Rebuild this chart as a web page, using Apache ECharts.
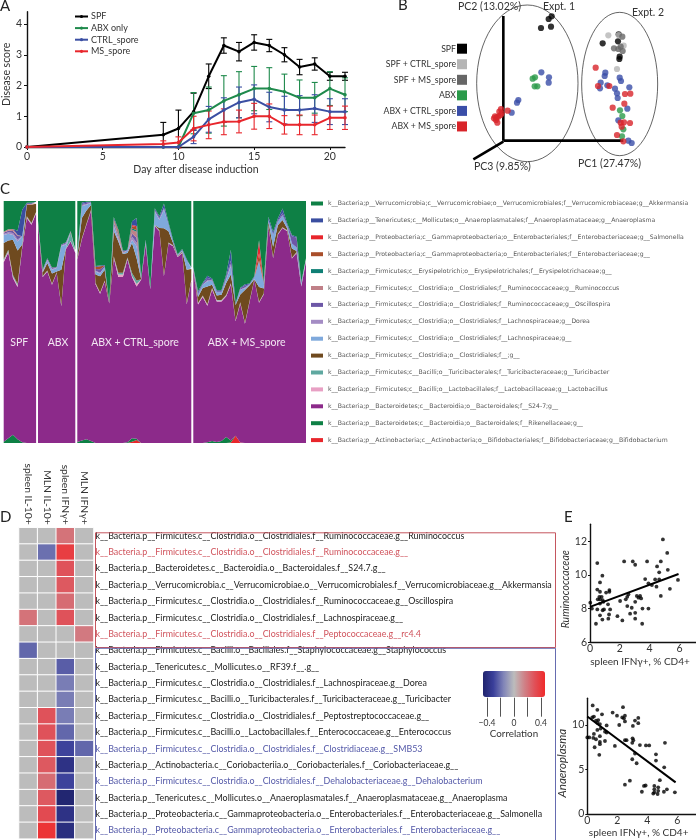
<!DOCTYPE html>
<html><head><meta charset="utf-8">
<style>html,body{margin:0;padding:0;background:#fff}#c{width:696px;height:840px}</style>
<script src="https://cdn.jsdelivr.net/npm/echarts@6/dist/echarts.min.js"></script>
</head><body><div id="c"></div><script>
const FONT='Lato';
// ---------- Panel A ----------
const days=[0,9,10,11,12,13,14,15,16,17,18,19,20,21];
const scoreSPF=[0,.4,.6,1.15,2.3,3.3,3.1,3.4,3.3,3.0,2.6,2.7,2.3,2.3];
const errSPF=[0,.4,.6,.6,.4,.25,.3,.25,.2,.23,.25,.2,.13,.13];
const scoreABX=[0,0,0,1.1,1.2,1.5,1.7,1.9,1.9,1.8,1.6,1.6,1.9,1.7];
const errABX=[0,0,0,.67,.75,.82,.75,.72,.68,.57,.58,.5,.55,.55];
const scoreCTRL=[0,0,0,.33,.9,1.2,1.45,1.55,1.3,1.2,1.2,1.25,1.15,1.15];
const errCTRL=[0,0,0,.22,.42,.4,.5,.47,.48,.45,.47,.45,.42,.42];
const scoreMS=[0,.1,.15,.6,.72,.82,.83,1.0,1.0,.72,.72,.72,.95,.95];
const errMS=[0,.1,.18,.4,.45,.42,.37,.42,.4,.3,.32,.32,.38,.38];
const groupsA=[['SPF',scoreSPF,errSPF,'#000000'],['ABX only',scoreABX,errABX,'#1f8a4c'],['CTRL_spore',scoreCTRL,errCTRL,'#3b4fa3'],['MS_spore',scoreMS,errMS,'#e8262c']];
// ---------- Panel B ----------
const pcoaSPF=[[113,338],[143,342],[136,365],[145,373],[298,292],[344,298],[349,252],[348,245],[346,319]];
const pcoaSPFctrl=[[315,316],[346,317],[361,285],[341,215]];
const pcoaSPFms=[[357,312],[332,277],[358,269],[345,275],[352,282]];
const pcoaABX=[[88,186],[95,190],[94,163],[102,163],[350,91],[357,74],[360,34],[356,13]];
const pcoaABXctrl=[[114,205],[137,190],[136,174],[41,114],[45,122],[25,84],[306,204],[304,194],[292,174],[312,166],[349,189],[353,179],[335,156],[341,142],[343,128],[378,160],[372,96],[345,61],[375,0],[385,-7],[290,157]];
const pcoaABXms=[[-12,87],[-7,95],[13,90],[-25,73],[-20,70],[-28,67],[-15,72],[-22,62],[-18,54],[-8,77],[-5,82],[277,219],[284,164],[318,164],[328,99],[363,111],[365,140],[381,141],[362,55],[355,42],[380,53],[341,17],[360,-2],[352,54]];
const pcoaGroups=[['SPF',pcoaSPF,'#000000'],['SPF + CTRL_spore',pcoaSPFctrl,'#b5b5b5'],['SPF + MS_spore',pcoaSPFms,'#666666'],['ABX',pcoaABX,'#2a9a4a'],['ABX + CTRL_spore',pcoaABXctrl,'#3a4ea8'],['ABX + MS_spore',pcoaABXms,'#d8242a']];
const ellipses=[[72,172,152,235],[349,170,114,215]];
const pcAxes=[[[0,0],[360,0]],[[0,0],[0,374]],[[0,-3],[-90,-56]]];
// ---------- Panel C ----------
const taxa=[
 ['actino','k__Bacteria;p__Actinobacteria;c__Actinobacteria;o__Bifidobacteriales;f__Bifidobacteriaceae;g__Bifidobacterium','#e8262c'],
 ['riken','k__Bacteria;p__Bacteroidetes;c__Bacteroidia;o__Bacteroidales;f__Rikenellaceae;g__','#0e8045'],
 ['s24','k__Bacteria;p__Bacteroidetes;c__Bacteroidia;o__Bacteroidales;f__S24-7;g__','#8c2a8a'],
 ['lacto','k__Bacteria;p__Firmicutes;c__Bacilli;o__Lactobacillales;f__Lactobacillaceae;g__Lactobacillus','#e8a0c4'],
 ['turi','k__Bacteria;p__Firmicutes;c__Bacilli;o__Turicibacterales;f__Turicibacteraceae;g__Turicibacter','#5fa8a0'],
 ['brown','k__Bacteria;p__Firmicutes;c__Clostridia;o__Clostridiales;f__;g__','#6f4a1f'],
 ['lachno','k__Bacteria;p__Firmicutes;c__Clostridia;o__Clostridiales;f__Lachnospiraceae;g__','#7fa9dc'],
 ['dorea','k__Bacteria;p__Firmicutes;c__Clostridia;o__Clostridiales;f__Lachnospiraceae;g__Dorea','#a48cc4'],
 ['osc','k__Bacteria;p__Firmicutes;c__Clostridia;o__Clostridiales;f__Ruminococcaceae;g__Oscillospira','#6d57a6'],
 ['rumino','k__Bacteria;p__Firmicutes;c__Clostridia;o__Clostridiales;f__Ruminococcaceae;g__Ruminococcus','#c08088'],
 ['erys','k__Bacteria;p__Firmicutes;c__Erysipelotrichi;o__Erysipelotrichales;f__Erysipelotrichaceae;g__','#0f7f75'],
 ['entero','k__Bacteria;p__Proteobacteria;c__Gammaproteobacteria;o__Enterobacteriales;f__Enterobacteriaceae;g__','#a94e2a'],
 ['salm','k__Bacteria;p__Proteobacteria;c__Gammaproteobacteria;o__Enterobacteriales;f__Enterobacteriaceae;g__Salmonella','#e8262c'],
 ['anaero','k__Bacteria;p__Tenericutes;c__Mollicutes;o__Anaeroplasmatales;f__Anaeroplasmataceae;g__Anaeroplasma','#3a4ea0'],
 ['akk','k__Bacteria;p__Verrucomicrobia;c__Verrucomicrobiae;o__Verrucomicrobiales;f__Verrucomicrobiaceae;g__Akkermansia','#0e8045']
];
const taxaSPF={
 riken:[.5,2,3.4,1.5,.3,0,0,0],
 s24:[74.2,76.7,64.8,63,80.3,93,90.2,94.8],
 lacto:[.6,.6,.6,.6,.4,.4,.4,.4],
 turi:[.6,.6,.6,.6,.3,.3,.3,.3],
 brown:[6.7,3.8,14.6,13.8,.7,4.8,7.6,3.4],
 lachno:[3.4,2.8,2,3.8,3.4,0,0,0],
 dorea:[.4,.6,.8,.8,0,0,0,0],
 osc:[.5,.6,.8,1.4,0,0,0,0],
 rumino:[.4,.6,.8,.4,0,.4,.4,.4],
 anaero:[0,0,0,1.8,11,.4,.4,.4],
 akk:[13,13,12,13,5,1,1,1]};
const taxaABX={
 s24:[90.9,68.6,70.9,65.4,70.2,56.5,80.2,83.3,78.5],
 lacto:[.2,.2,.2,.2,.2,.2,.2,.2,.2],
 turi:[.2,.2,.2,.2,.2,.3,.2,3.4,.2],
 brown:[0,1.5,3.1,4.2,.3,14.6,0,.3,.3],
 lachno:[0,.4,1.1,1.6,1.4,9.7,1.4,0,.4],
 dorea:[0,.3,.3,.3,.2,.3,.4,.2,.1],
 osc:[.5,.5,.5,.6,.2,.4,.6,.2,.2],
 akk:[9,29,25,28,28,19,18,13,21]};
const taxaCTRL={
 actino:[0,0,0,0,0,0,0,0,0,0,0,0,.5,1.2,0,0,0,0,0,0,0,0,0,0,0,0],
 riken:[.4,1,1.6,.8,0,0,0,0,0,0,0,.3,1.5,.6,0,0,0,0,0,0,0,0,0,0,0,0],
 s24:[75.5,83.2,88.6,95.1,65.6,61.7,66.7,57.6,76.6,68.6,68.6,75.6,66.6,62.9,67.5,82,63.5,89.7,87.5,69,82.4,81.3,76.9,78.5,57.3,66.9],
 lacto:[.2,.2,.2,.2,.3,.3,.3,.1,.3,1,1,.3,.4,1,.1,.2,.1,.2,.2,.2,.2,.2,.2,.2,.2,.2],
 turi:[.2,.2,.2,.2,.2,.2,.2,.1,.3,.8,.8,.5,1.2,1.5,.1,.2,.1,.2,.2,.2,.2,.2,.1,.2,.2,.2],
 brown:[.8,8.4,5.5,2,3.5,6.7,4.4,.3,10.4,12.9,7.7,1.8,12.4,9.2,.1,.2,0,0,.9,19.3,4.7,.9,.2,.3,13.9,4.6],
 lachno:[.7,4.8,2.4,.9,1.3,1.1,1.1,0,1.9,.7,.4,1,1.4,4.9,.2,.7,.3,5.5,3.5,7.7,2.9,.7,.3,.4,3.9,.3],
 dorea:[0,.5,.3,.2,.3,.3,0,0,.8,.5,0,0,1.2,1.5,0,0,0,.3,.3,.3,0,0,0,0,0,0],
 osc:[.2,.5,.5,.2,.7,1.5,.5,.2,1,.7,0,0,1.4,2,.1,.2,0,.5,.5,.5,0,0,.1,.2,0,0],
 rumino:[0,0,0,0,0,0,0,0,.8,1,.5,.2,1.5,2.5,0,0,0,0,0,0,0,0,0,0,0,0],
 erys:[0,0,0,0,0,0,0,0,0,.6,0,0,.5,.7,0,0,0,0,0,0,0,0,0,0,0,0],
 entero:[0,0,0,0,.8,1.2,0,0,.4,.8,0,0,1,1.2,0,0,0,0,0,0,0,0,0,0,0,0],
 salm:[0,0,0,0,0,0,0,0,0,.3,0,0,.5,.5,0,0,0,0,0,0,0,0,0,0,0,0],
 anaero:[.2,.6,.4,.1,.4,.3,.4,.1,.9,.3,.5,.2,1.5,3.3,.2,.5,.1,.6,.6,1.8,.8,.7,.2,.4,.5,.3],
 akk:[23,2,2,2,28,28,28,43,8,13,22,22,10,9,33,17,37,4,8,2,10,17,23,21,25,29]};
const taxaMS={
 actino:[0,0,0,0,0,0,0,0,.2,3,.2,0,0,0,0,0,0,0,0,0,0,0,0,0,0],
 riken:[0,0,0,.3,.8,.4,.8,2.5,.8,0,0,0,0,0,0,0,0,0,0,0,0,0,0,0,0],
 s24:[71.6,57.2,60.3,56.4,62.6,58.1,57.7,58.1,64.4,47.3,57.4,49.3,58.5,67.5,58,61.4,89.5,76.4,86.1,88.8,87.5,76.2,78.5,64.7,75],
 lacto:[.1,.4,.4,.4,.4,.4,.4,.4,.4,.2,.4,.2,.2,.1,.2,.2,.2,.2,.2,.2,.2,.2,.2,.2,.2],
 turi:[.1,.2,.2,.2,.2,.2,.2,.2,.2,.2,.2,.2,.2,.1,.2,.2,.2,.2,.2,.2,.2,.2,.2,.2,.2],
 brown:[.1,2.5,3.1,7.4,1.4,1.8,2.2,4.9,3.6,6.3,3.2,13.5,6.3,0,6.1,2,1.5,4.3,3.5,2.9,.7,3.8,.4,.1,0],
 lachno:[.4,1,1.4,2.1,1.8,1.4,1,1.4,3.4,.2,2,.6,.4,.8,10.4,2.1,.7,4.8,1.4,2,1.4,2,1.5,.7,.5],
 dorea:[0,0,0,.5,0,0,0,.3,1,0,0,.5,0,0,0,0,0,0,0,0,0,0,0,0,0],
 osc:[0,.7,.3,1,.4,.4,.4,.8,1.4,0,.4,.8,0,0,.5,0,0,.5,.5,1,0,3,4,0,0],
 entero:[0,0,0,0,0,0,0,0,0,0,0,0,0,0,3,0,0,0,0,0,0,0,0,0,0],
 salm:[0,0,0,0,0,0,0,0,0,0,0,0,0,0,5,0,0,0,0,0,0,0,0,0,0],
 anaero:[.3,.7,.4,.8,.4,.4,.4,1,4.5,.5,.4,.5,.3,.5,.4,.7,1.4,.9,.9,1.8,.7,.5,.4,.7,.4],
 akk:[28,38,35,32,33,38,38,31,21,43,37,35,35,32,17,34,7,13,8,4,10,15,16,34,25]};
const taxaGroups=[['SPF',taxaSPF,3.7,32.4,19.3],['ABX',taxaABX,38,37.3,58],['ABX + CTRL_spore',taxaCTRL,77.3,114,135],['ABX + MS_spore',taxaMS,193.3,112.7,246.7]];
// ---------- Panel D ----------
const cytokines=['spleen IL-10+','MLN IL-10+','spleen IFNγ+','MLN IFNγ+'];
const otuLabels=[
'k__Bacteria.p__Firmicutes.c__Clostridia.o__Clostridiales.f__Ruminococcaceae.g__Ruminococcus',
'k__Bacteria.p__Firmicutes.c__Clostridia.o__Clostridiales.f__Ruminococcaceae.g__',
'k__Bacteria.p__Bacteroidetes.c__Bacteroidia.o__Bacteroidales.f__S24.7.g__',
'k__Bacteria.p__Verrucomicrobia.c__Verrucomicrobiae.o__Verrucomicrobiales.f__Verrucomicrobiaceae.g__Akkermansia',
'k__Bacteria.p__Firmicutes.c__Clostridia.o__Clostridiales.f__Ruminococcaceae.g__Oscillospira',
'k__Bacteria.p__Firmicutes.c__Clostridia.o__Clostridiales.f__Lachnospiraceae.g__',
'k__Bacteria.p__Firmicutes.c__Clostridia.o__Clostridiales.f__Peptococcaceae.g__rc4.4',
'k__Bacteria.p__Firmicutes.c__Bacilli.o__Bacillales.f__Staphylococcaceae.g__Staphylococcus',
'k__Bacteria.p__Tenericutes.c__Mollicutes.o__RF39.f__.g__',
'k__Bacteria.p__Firmicutes.c__Clostridia.o__Clostridiales.f__Lachnospiraceae.g__Dorea',
'k__Bacteria.p__Firmicutes.c__Bacilli.o__Turicibacterales.f__Turicibacteraceae.g__Turicibacter',
'k__Bacteria.p__Firmicutes.c__Clostridia.o__Clostridiales.f__Peptostreptococcaceae.g__',
'k__Bacteria.p__Firmicutes.c__Bacilli.o__Lactobacillales.f__Enterococcaceae.g__Enterococcus',
'k__Bacteria.p__Firmicutes.c__Clostridia.o__Clostridiales.f__Clostridiaceae.g__SMB53',
'k__Bacteria.p__Actinobacteria.c__Coriobacteriia.o__Coriobacteriales.f__Coriobacteriaceae.g__',
'k__Bacteria.p__Firmicutes.c__Clostridia.o__Clostridiales.f__Dehalobacteriaceae.g__Dehalobacterium',
'k__Bacteria.p__Tenericutes.c__Mollicutes.o__Anaeroplasmatales.f__Anaeroplasmataceae.g__Anaeroplasma',
'k__Bacteria.p__Proteobacteria.c__Gammaproteobacteria.o__Enterobacteriales.f__Enterobacteriaceae.g__Salmonella',
'k__Bacteria.p__Proteobacteria.c__Gammaproteobacteria.o__Enterobacteriales.f__Enterobacteriaceae.g__'];
const otuTone=['k','r','k','k','k','k','r','k','k','k','k','k','k','b','k','b','k','k','b'];
const corrSpleenIL10=[0,0,0,0,0,.2,0,-.22,0,0,0,0,0,0,0,0,0,0,0];
const corrMLNIL10=[0,-.2,0,0,0,0,0,0,0,0,0,.3,.3,.3,.28,.22,.28,.33,.42];
const corrSpleenIFN=[.2,.38,.3,.28,.22,.3,0,0,-.24,-.17,-.17,-.17,-.22,-.3,-.38,-.3,-.45,-.38,-.4];
const corrMLNIFN=[0,0,0,0,0,0,.18,0,0,0,0,0,0,-.22,0,0,0,0,0];
const corrColumns=[corrSpleenIL10,corrMLNIL10,corrSpleenIFN,corrMLNIFN];
const corrColors=['#20246e','#3a3f9a','#8185b8','#bcbcbc','#cf8288','#e05058','#f02a2a'];
// ---------- Panel E ----------
const ruminoPts=[[4.89,12.1],[5.18,11.3],[.49,10.7],[2.29,10.8],[2.87,10.8],[3.03,10.6],[3.83,10.8],[4.75,10.8],[4.5,10.5],[5.22,10.3],[4.64,10.15],[.83,9.95],[3.7,9.75],[5.9,9.7],[4.37,9.73],[4.64,9.73],[.67,9.55],[3.92,9.5],[4.15,9.4],[4.46,9.3],[5.36,9.17],[.49,9.13],[.67,9],[1.3,9.1],[1.3,9],[1.08,8.95],[4.75,8.75],[2.58,8.85],[.63,8.7],[.78,8.7],[2.5,8.7],[.52,8.55],[.67,8.55],[.85,8.5],[3.14,8.75],[3.36,8.75],[3.25,8.65],[3.43,8.6],[2.4,8.55],[2.02,8.45],[3.03,8.4],[.02,8.35],[1.21,8.25],[.67,8.3],[.9,8.4],[2.5,8.15],[2.8,8.05],[.13,8],[.49,7.95],[.94,7.95],[.85,7.9],[1.35,7.95],[3.52,8],[3.92,8],[2.69,7.7],[3.03,7.75],[.67,7.6],[1.28,7.65],[1.84,7.55],[.83,7.35],[1.23,7.4],[2.17,7.3],[3.03,7.4],[.4,7.1],[3.5,7.1]];
const ruminoFit=[[0,8.1],[5.94,10.05]];
const anaeroPts=[[.36,12.2],[2.38,12],[.67,11.7],[.98,11.2],[1.69,11.4],[1.98,11.05],[2.51,11.05],[2.33,10.85],[2.44,10.75],[3.4,10.8],[3.18,10.5],[3.4,10.2],[3.04,9.9],[2.13,10],[2.51,10.4],[.44,10.95],[.33,10.85],[.58,10.5],[.73,10.55],[.67,10.25],[.84,10.1],[1.29,9.95],[.89,9.6],[.67,9.45],[1.18,9.25],[1.29,9.15],[.44,9],[.84,8.75],[0,8.6],[.13,8.6],[.4,8.55],[.58,8.4],[1.18,8.2],[.84,8.1],[.84,7.85],[1.84,7.65],[.49,7.5],[.8,6.65],[2.51,8.3],[2.62,8.3],[3.02,8.5],[3.07,8.3],[3,8],[3.51,7.75],[3.91,7.7],[4.13,7.7],[5.18,8],[3.18,6.8],[3,6.15],[3.29,5.7],[4.58,6.7],[4.58,6],[5.13,5.25],[2.84,3.75],[2.51,3.3],[4.84,3.8],[3.78,3.15],[3.89,3.2],[3.64,2.5],[4.47,3.15],[4.47,2.77],[4.47,2.43],[4.4,2.3],[4.73,3],[4.73,2.6],[4.69,2.25],[5.11,2.5],[5.31,2.77],[5.84,2.43]];
const anaeroFit=[[0,10.95],[5.89,3.55]];

// ---------- Build ----------
const TXT='#333';
const grids=[],xAxes=[],yAxes=[],series=[],graphic=[];
function addGrid(l,t,w,h,xa,ya){grids.push({left:l,top:t,width:w,height:h,containLabel:false});const i=grids.length-1;
 xAxes.push(Object.assign({gridIndex:i},xa));yAxes.push(Object.assign({gridIndex:i},ya));return i;}
const hidden=(o)=>Object.assign({type:'value',show:false},o);
const axLine={show:true,lineStyle:{color:'#111',width:1.4}};
// A
const gA=addGrid(27,11.7,318,135.3,
 {type:'value',min:0,max:21,interval:5,splitLine:{show:false},axisLine:axLine,
  axisTick:{show:true,length:3,lineStyle:{color:'#111'},customValues:[0,5,10,15,20]},
  axisLabel:{fontFamily:FONT,fontSize:10.5,color:TXT,margin:4,customValues:[0,5,10,15,20]},
  name:'Day after disease induction',nameLocation:'middle',nameGap:17,nameTextStyle:{fontFamily:FONT,fontSize:10.5,color:TXT,padding:[0,0,0,20]}},
 {type:'value',min:0,max:4.4,interval:1,splitLine:{show:false},axisLine:axLine,
  axisTick:{show:true,length:3,lineStyle:{color:'#111'},customValues:[0,1,2,3,4]},
  axisLabel:{fontFamily:FONT,fontSize:10.5,color:TXT,margin:5,customValues:[0,1,2,3,4]},
  name:'Disease score',nameLocation:'middle',nameGap:15,nameTextStyle:{fontFamily:FONT,fontSize:10.5,color:TXT,padding:[0,0,0,10]}});
groupsA.forEach(([n,vals,errs,col])=>{
 series.push({type:'line',name:n,xAxisIndex:gA,yAxisIndex:gA,data:days.map((d,i)=>[d,vals[i]]),symbol:'circle',symbolSize:3.5,showSymbol:true,clip:false,
  lineStyle:{color:col,width:2},itemStyle:{color:col},z:3});
 series.push({type:'custom',name:n+' error',xAxisIndex:gA,yAxisIndex:gA,clip:false,z:2,data:days.map((d,i)=>[d,vals[i]-errs[i],vals[i]+errs[i]]).filter(r=>r[2]>r[1]),
  renderItem:(p,api)=>{const a=api.coord([api.value(0),api.value(1)]),b=api.coord([api.value(0),api.value(2)]);
   const s={stroke:col,lineWidth:1.1,fill:null};
   return {type:'group',children:[
    {type:'line',shape:{x1:a[0],y1:a[1],x2:b[0],y2:b[1]},style:s},
    {type:'line',shape:{x1:a[0]-3,y1:a[1],x2:a[0]+3,y2:a[1]},style:s},
    {type:'line',shape:{x1:b[0]-3,y1:b[1],x2:b[0]+3,y2:b[1]},style:s}]};}});
});
// B
const gB=addGrid(370,0,326,190,hidden({min:-400,max:578}),hidden({min:-148,max:422}));
series.push({type:'custom',name:'Expt. ellipses',xAxisIndex:gB,yAxisIndex:gB,z:1,data:ellipses,
 renderItem:(p,api)=>{const c=api.coord([api.value(0),api.value(1)]),s=api.size([api.value(2),api.value(3)]);
  return {type:'ellipse',shape:{cx:c[0],cy:c[1],rx:s[0],ry:s[1]},style:{fill:null,stroke:'#222',lineWidth:.7}};}});
pcAxes.forEach((seg,i)=>series.push({type:'line',name:'PC axis '+(i+1),xAxisIndex:gB,yAxisIndex:gB,data:seg,symbol:'none',z:2,lineStyle:{color:'#000',width:2.6}}));
pcoaGroups.forEach(([n,pts,col])=>series.push({type:'scatter',name:n,xAxisIndex:gB,yAxisIndex:gB,data:pts,symbolSize:6.2,z:3,itemStyle:{color:col}}));
pcoaGroups.forEach(([n,pts,col],i)=>{const y=48.7+i*15.55;
 graphic.push({type:'rect',left:457,top:y-5,shape:{width:10,height:10},style:{fill:col},z:50});
 graphic.push({type:'text',x:456,y,style:{text:n,fontFamily:FONT,fontSize:8.7,fill:TXT,textAlign:'right',textVerticalAlign:'middle'},z:50});});
[['PC2 (13.02%)',458,1],['Expt. 1',543,1],['Expt. 2',632,7],['PC1 (27.47%)',578,158],['PC3 (9.85%)',474,161]].forEach(([t,x,y])=>
 graphic.push({type:'text',left:x,top:y,style:{text:t,fontFamily:FONT,fontSize:10.5,fill:TXT},z:50}));
// C
taxaGroups.forEach(([label,table,l,w,cx])=>{
 const g=addGrid(l,201,w,242,{type:'category',show:false,boundaryGap:false,data:table.s24.map((_,i)=>i)},hidden({min:0,max:100}));
 taxa.forEach(([k,name,col])=>{const vals=table[k]||table.s24.map(()=>0);
  series.push({type:'line',name,xAxisIndex:g,yAxisIndex:g,stack:'g'+g,data:vals,symbol:'none',showSymbol:false,
   lineStyle:{width:0,color:col},areaStyle:{color:col,opacity:1},itemStyle:{color:col},z:2});});
 graphic.push({type:'text',x:cx,y:343,style:{text:label,fontFamily:FONT,fontSize:10.5,fill:'#f2e6f2',textAlign:'center',textVerticalAlign:'middle'},z:50});
});
// D
const gD=addGrid(19,527.7,74.5,311,
 {type:'category',position:'top',data:cytokines,axisLine:{show:false},axisTick:{show:false},
  axisLabel:{rotate:90,interval:0,fontFamily:FONT,fontSize:10.3,color:TXT,margin:3}},
 {type:'category',position:'right',inverse:true,data:otuLabels,axisLine:{show:false},axisTick:{show:false},
  axisLabel:{interval:0,fontFamily:FONT,fontSize:8.9,margin:2,color:(v,i)=>({k:'#1a1a1a',r:'#d0535c',b:'#5358a8'})[otuTone[i]]}});
const heat=[];corrColumns.forEach((col,x)=>col.forEach((v,y)=>heat.push([x,y,v])));
const heatIdx=series.length;
series.push({type:'heatmap',name:'Correlation',xAxisIndex:gD,yAxisIndex:gD,data:heat,itemStyle:{borderColor:'#fff',borderWidth:1},z:2});
graphic.push({type:'rect',left:93,top:530.3,shape:{width:460,height:114.7},style:{fill:null,stroke:'#c5565f',lineWidth:1},z:40});
graphic.push({type:'rect',left:93,top:645.8,shape:{width:460,height:192.5},style:{fill:null,stroke:'#666cb0',lineWidth:1},z:40});
// colourbar axis
const gBar=addGrid(473.5,696.7,81,1,
 {type:'value',min:-.6,max:.6,interval:.2,splitLine:{show:false},axisLine:{show:false},
  axisTick:{show:true,length:19,lineStyle:{color:'#555',width:1},customValues:[-.4,-.2,0,.2,.4]},
  axisLabel:{fontFamily:FONT,fontSize:8.5,color:TXT,margin:21,customValues:[-.4,0,.4],formatter:v=>Math.abs(v)<1e-9?'0':(v<0?'−':'')+Math.abs(v).toFixed(1)},
  name:'Correlation',nameLocation:'middle',nameGap:25,nameTextStyle:{fontFamily:FONT,fontSize:9.8,color:TXT}},
 hidden({min:0,max:1}));
// E
function scatterPanel(l,t,w,h,xMax,yMin,yMax,yInt,yTicks,yName,pts,fit,nameGap,pad,yFont){
 const g=addGrid(l,t,w,h,
  {type:'value',min:0,max:xMax,interval:2,splitLine:{show:false},axisLine:axLine,axisTick:{show:false},
   axisLabel:{fontFamily:FONT,fontSize:10.5,color:TXT,margin:1,customValues:[0,2,4,6]},
   name:'spleen IFNγ+, % CD4+',nameLocation:'middle',nameGap:14,nameTextStyle:{fontFamily:FONT,fontSize:10,color:TXT,padding:[0,6,0,0]}},
  {type:'value',min:yMin,max:yMax,interval:yInt,splitLine:{show:false},axisLine:axLine,
   axisTick:{show:true,length:2,lineStyle:{color:'#111'},customValues:yTicks},
   axisLabel:{fontFamily:FONT,fontSize:10.5,color:TXT,margin:3,customValues:yTicks},
   name:yName,nameLocation:'middle',nameGap:nameGap,nameTextStyle:{fontFamily:FONT,fontSize:yFont,fontStyle:'italic',color:TXT,padding:[0,pad,0,0]}});
 series.push({type:'scatter',name:yName,xAxisIndex:g,yAxisIndex:g,data:pts,symbolSize:3.8,itemStyle:{color:'#000'},z:3,clip:false});
 series.push({type:'line',name:yName+' fit',xAxisIndex:g,yAxisIndex:g,data:fit,symbol:'none',lineStyle:{color:'#000',width:2},z:4});
}
scatterPanel(590,524.3,106,118,7.11,6,13,2,[6,8,10,12],'Ruminococcaceae',ruminoPts,ruminoFit,15,12,10.5);
scatterPanel(587.3,698.3,108.7,115.7,7.25,0,13,5,[0,5,10],'Anaeroplasma',anaeroPts,anaeroFit,12,14,11.5);
// letters
[['A',0,-1],['B',398,-2],['C',0,182],['D',0,510],['E',564,510]].forEach(([t,x,y])=>
 graphic.push({type:'text',left:x,top:y,style:{text:t,fontFamily:FONT,fontSize:15,fill:'#222'},z:50}));

const option={animation:false,backgroundColor:'#fff',grid:grids,xAxis:xAxes,yAxis:yAxes,series,graphic,
 legend:[
  {left:74,top:12,orient:'vertical',itemWidth:13,itemHeight:4,itemGap:2.6,selectedMode:false,padding:0,
   data:groupsA.map(g=>g[0]),textStyle:{fontFamily:FONT,fontSize:9,color:TXT,padding:[0,0,0,-2]}},
  {left:311,top:200.5,orient:'vertical',itemWidth:12,itemHeight:4,itemGap:10.9,selectedMode:false,padding:0,
   data:taxa.slice().reverse().map(t=>({name:t[1],icon:'rect'})),textStyle:{fontFamily:'DejaVu Sans',fontSize:6.15,color:'#555',padding:[0,0,0,0]}}],
 visualMap:{type:'continuous',min:-.46,max:.46,seriesIndex:heatIdx,orient:'horizontal',left:483,top:671,itemHeight:62,itemWidth:26,padding:0,
  calculable:false,realtime:false,hoverLink:false,text:null,showLabel:false,inRange:{color:corrColors},textStyle:{fontSize:0}}};
const chart=echarts.init(document.getElementById('c'),null,{renderer:'canvas',width:696,height:840});
chart.setOption(option);
</script></body></html>
